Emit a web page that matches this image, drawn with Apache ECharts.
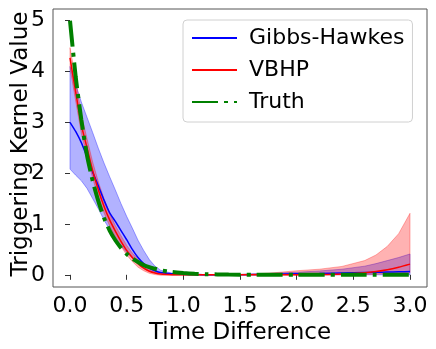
<!DOCTYPE html>
<html>
<head>
<meta charset="utf-8">
<script src="https://cdn.jsdelivr.net/npm/echarts@6/dist/echarts.min.js"></script>
<style>
html, body { margin: 0; padding: 0; background: #fff; }
#kernel { width: 436px; height: 349px; }
</style>
</head>
<body>
<div id="kernel"></div>
<script>
// --- 数据 ---
var xs = [0, 0.05, 0.1, 0.15, 0.2, 0.25, 0.3, 0.35, 0.4, 0.45, 0.5, 0.55, 0.6, 0.65, 0.7, 0.75, 0.8, 0.9, 1.0, 1.1, 1.2, 1.4, 1.6, 1.8, 2.0, 2.2, 2.4, 2.6, 2.7, 2.8, 2.9, 3.0];

var truth = [5.0, 3.9, 3.05, 2.35, 1.85, 1.45, 1.12, 0.87, 0.68, 0.53, 0.41, 0.32, 0.25, 0.19, 0.15, 0.12, 0.09, 0.055, 0.035, 0.02, 0.012, 0.005, 0, 0, 0, 0, 0, 0, 0, 0, 0, 0];

var gibbsMean = [3.0, 2.82, 2.6, 2.32, 2.02, 1.75, 1.47, 1.22, 1.05, 0.87, 0.69, 0.5, 0.34, 0.22, 0.13, 0.08, 0.045, 0.02, 0.01, 0.005, 0, 0, 0.005, 0.01, 0.02, 0.025, 0.035, 0.045, 0.05, 0.055, 0.06, 0.065];
var gibbsLow = [2.08, 1.96, 1.85, 1.7, 1.5, 1.3, 1.08, 0.89, 0.72, 0.57, 0.44, 0.33, 0.22, 0.14, 0.08, 0.04, 0.02, 0.005, 0, 0, 0, 0, 0, 0, 0, 0, 0, 0, 0, 0, 0, 0];
var gibbsHigh = [4.1, 3.75, 3.4, 3.1, 2.8, 2.49, 2.2, 1.93, 1.67, 1.4, 1.15, 0.92, 0.68, 0.48, 0.3, 0.17, 0.09, 0.03, 0.01, 0.005, 0, 0, 0.01, 0.03, 0.05, 0.075, 0.11, 0.17, 0.22, 0.28, 0.34, 0.41];

var vbhpMean = [4.27, 3.6, 2.95, 2.5, 2.05, 1.67, 1.35, 1.08, 0.86, 0.66, 0.48, 0.34, 0.22, 0.13, 0.07, 0.035, 0.015, 0.003, 0, 0, 0, 0, 0, 0, 0.002, 0.005, 0.015, 0.04, 0.065, 0.1, 0.15, 0.21];
var vbhpLow = [4.07, 3.42, 2.78, 2.33, 1.9, 1.53, 1.22, 0.96, 0.75, 0.56, 0.39, 0.26, 0.15, 0.08, 0.03, 0.005, -0.01, -0.01, -0.005, 0, 0, 0, 0, 0, 0, 0, 0, 0.005, 0.01, 0.02, 0.03, 0.04];
var vbhpHigh = [4.47, 3.85, 3.15, 2.68, 2.22, 1.83, 1.5, 1.21, 0.97, 0.77, 0.58, 0.43, 0.3, 0.2, 0.12, 0.07, 0.04, 0.015, 0.005, 0.002, 0, 0.003, 0.015, 0.04, 0.08, 0.11, 0.165, 0.28, 0.39, 0.56, 0.81, 1.21];

var xTicks = [0, 0.5, 1.0, 1.5, 2.0, 2.5, 3.0];
var yTicks = [0, 1, 2, 3, 4, 5];

function pairs(ys) {
	return xs.map(function (x, i) { return [x, ys[i]]; });
}

// 区间带: 用 custom 画一个多边形 (上沿 + 反向下沿)
function bandSeries(name, lo, hi, fill, stroke, z) {
	return {
		name: name,
		type: 'custom',
		silent: true,
		clip: true,
		z: z,
		data: pairs(hi),
		encode: { x: 0, y: 1 },
		renderItem: function (params, api) {
			if (params.dataIndex !== 0) return;
			var pts = [];
			for (var i = 0; i < xs.length; i++) pts.push(api.coord([xs[i], hi[i]]));
			for (var j = xs.length - 1; j >= 0; j--) pts.push(api.coord([xs[j], lo[j]]));
			return {
				type: 'polygon',
				shape: { points: pts },
				style: { fill: fill, stroke: stroke, lineWidth: 1 }
			};
		}
	};
}

var FONT = 'DejaVu Sans';

var myChart = echarts.init(document.getElementById('kernel'), null, { renderer: 'canvas' });
myChart.setOption({
	animation: false,
	grid: {
		left: 53,
		right: 9,
		top: 9,
		bottom: 62,
		outerBoundsMode: 'none',
		containLabel: false,
		show: true,
		borderColor: '#555',
		borderWidth: 1,
		backgroundColor: 'transparent'
	},
	legend: {
		data: ['Gibbs-Hawkes', 'VBHP', 'Truth'],
		orient: 'vertical',
		left: 183,
		top: 20,
		padding: [7, 8, 9, 8],
		itemGap: 10,
		itemWidth: 45,
		itemHeight: 14,
		itemStyle: { opacity: 0 },
		backgroundColor: 'rgba(255,255,255,0.8)',
		borderColor: '#d0d0d0',
		borderWidth: 1,
		borderRadius: 4,
		textStyle: {
			fontFamily: FONT,
			fontSize: 22,
			color: '#000',
			padding: [0, 0, 0, 7]
		}
	},
	xAxis: {
		type: 'value',
		min: -0.15,
		max: 3.15,
		name: 'Time Difference',
		nameLocation: 'middle',
		nameGap: 35,
		nameMoveOverlap: false,
		nameTextStyle: { fontFamily: FONT, fontSize: 23, color: '#000' },
		splitLine: { show: false },
		axisLine: { show: false },
		axisTick: {
			show: true,
			length: 5,
			customValues: xTicks,
			lineStyle: { color: '#333' }
		},
		axisLabel: {
			customValues: xTicks,
			margin: 8,
			fontFamily: FONT,
			fontSize: 22,
			color: '#000',
			formatter: function (v) { return v.toFixed(1); }
		}
	},
	yAxis: {
		type: 'value',
		min: -0.24,
		max: 5.23,
		name: 'Triggering Kernel Value',
		nameLocation: 'middle',
		nameGap: 20,
		nameMoveOverlap: false,
		nameTextStyle: { fontFamily: FONT, fontSize: 23, color: '#000', padding: [0, 0, 0, 8] },
		splitLine: { show: false },
		axisLine: { show: false },
		axisTick: {
			show: true,
			length: 5,
			customValues: yTicks,
			lineStyle: { color: '#333' }
		},
		axisLabel: {
			customValues: yTicks,
			margin: 8,
			fontFamily: FONT,
			fontSize: 22,
			color: '#000'
		}
	},
	series: [
		// --- 区间 ---
		bandSeries('gBand', gibbsLow, gibbsHigh, 'rgba(0,0,255,0.3)', 'rgba(0,0,255,0.35)', 1),
		bandSeries('vBand', vbhpLow, vbhpHigh, 'rgba(255,0,0,0.3)', 'rgba(255,0,0,0.3)', 2),
		// --- 均值线 ---
		{
			name: 'Gibbs-Hawkes',
			type: 'line',
			data: pairs(gibbsMean),
			symbol: 'none',
			smooth: 0.2,
			itemStyle: { color: '#0000ff' },
			lineStyle: { color: '#0000ff', width: 1.5 },
			z: 3
		},
		{
			name: 'VBHP',
			type: 'line',
			data: pairs(vbhpMean),
			symbol: 'none',
			smooth: 0.2,
			itemStyle: { color: '#ff0000' },
			lineStyle: { color: '#ff0000', width: 1.5 },
			z: 3
		},
		{
			name: 'Truth',
			type: 'line',
			data: pairs(truth),
			symbol: 'none',
			smooth: 0.2,
			itemStyle: { color: '#008000' },
			lineStyle: { color: '#008000', width: 4, type: [26, 6, 4, 6], cap: 'butt' },
			z: 4
		}
	]
});
</script>
</body>
</html>
